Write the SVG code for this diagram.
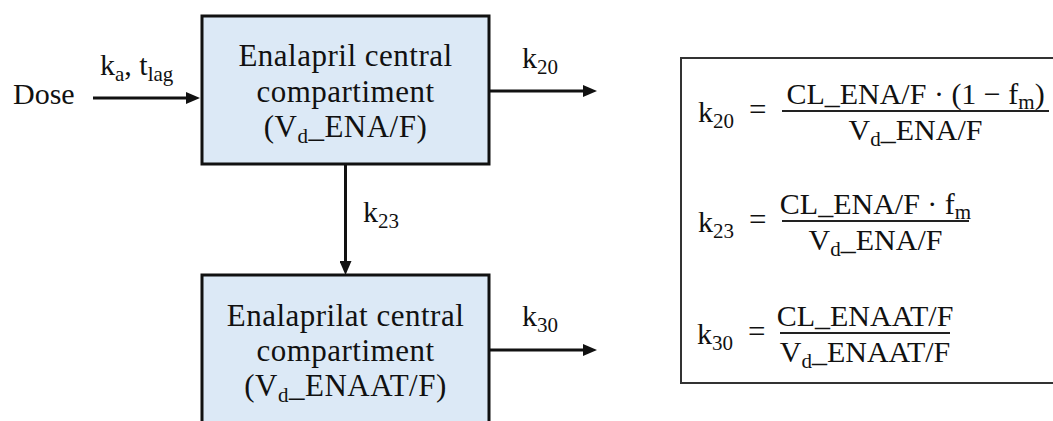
<svg xmlns="http://www.w3.org/2000/svg" width="1053" height="421" viewBox="0 0 1053 421">
<style>
text{font-family:"Liberation Serif","Times New Roman",serif;fill:#111}
.lbl{font-size:30px}
.box{fill:#dce9f6;stroke:#111;stroke-width:3}
.bt{font-size:31px;text-anchor:middle;letter-spacing:0.5px}
.sub{font-size:21px}
.math{font-size:30px}
.eq{font-size:31px}
.mid{text-anchor:middle}
.conn{stroke:#111;stroke-width:3;fill:none;marker-end:url(#ah)}
.bar{stroke:#222;stroke-width:1.8}
</style>
<defs>
<marker id="ah" markerUnits="userSpaceOnUse" markerWidth="14" markerHeight="12" viewBox="0 0 14 12" refX="6" refY="6" orient="auto">
<path d="M0,0 L14,6 L0,12 Z" fill="#111"/>
</marker>
</defs>
<rect width="1053" height="421" fill="#fff"/>

<g id="connectors">
<line class="conn" x1="93" y1="98" x2="192" y2="98"/>
<line class="conn" x1="489" y1="91" x2="589" y2="91"/>
<line class="conn" x1="345.5" y1="165" x2="345.5" y2="267"/>
<line class="conn" x1="489" y1="350" x2="589" y2="350"/>
<text class="lbl" x="100" y="75">k<tspan class="sub" dy="6">a</tspan><tspan dy="-6">, t</tspan><tspan class="sub" dy="6">lag</tspan></text>
<text class="lbl" x="522" y="68">k<tspan class="sub" dy="6">20</tspan></text>
<text class="lbl" x="363" y="222">k<tspan class="sub" dy="6">23</tspan></text>
<text class="lbl" x="522" y="326">k<tspan class="sub" dy="6">30</tspan></text>
</g>

<g id="dose">
<text class="lbl" x="13" y="104">Dose</text>
</g>

<g id="enalapril">
<rect class="box" x="202" y="16" width="287" height="148"/>
<text class="bt" x="345.5" y="66">Enalapril central</text>
<text class="bt" x="345.5" y="102">compartiment</text>
<text class="bt" x="345.5" y="137">(V<tspan class="sub" dy="6">d</tspan><tspan dy="-6">_ENA/F)</tspan></text>
</g>

<g id="enalaprilat">
<rect class="box" x="202" y="275" width="287" height="165"/>
<text class="bt" x="345.5" y="326">Enalaprilat central</text>
<text class="bt" x="345.5" y="361">compartiment</text>
<text class="bt" x="345.5" y="396">(V<tspan class="sub" dy="6">d</tspan><tspan dy="-6">_ENAAT/F)</tspan></text>
</g>

<g id="equations">
<rect x="681" y="58" width="380" height="325" fill="none" stroke="#333" stroke-width="2"/>

<text class="math" x="698" y="122">k<tspan class="sub" dy="6">20</tspan></text>
<text class="eq" x="749" y="120">=</text>
<text class="math mid" x="915.5" y="104">CL_ENA/F · (1 − f<tspan class="sub" dy="5">m</tspan><tspan dy="-5">)</tspan></text>
<line class="bar" x1="782" y1="111" x2="1049" y2="111"/>
<text class="math mid" x="915.5" y="140">V<tspan class="sub" dy="6">d</tspan><tspan dy="-6">_ENA/F</tspan></text>

<text class="math" x="698" y="232">k<tspan class="sub" dy="6">23</tspan></text>
<text class="eq" x="749" y="230">=</text>
<text class="math mid" x="875.5" y="214">CL_ENA/F · f<tspan class="sub" dy="5">m</tspan></text>
<line class="bar" x1="782" y1="221" x2="969" y2="221"/>
<text class="math mid" x="875.5" y="250">V<tspan class="sub" dy="6">d</tspan><tspan dy="-6">_ENA/F</tspan></text>

<text class="math" x="697" y="344">k<tspan class="sub" dy="6">30</tspan></text>
<text class="eq" x="748" y="342">=</text>
<text class="math mid" x="865" y="326">CL_ENAAT/F</text>
<line class="bar" x1="780" y1="333" x2="950" y2="333"/>
<text class="math mid" x="865" y="362">V<tspan class="sub" dy="6">d</tspan><tspan dy="-6">_ENAAT/F</tspan></text>
</g>
</svg>
